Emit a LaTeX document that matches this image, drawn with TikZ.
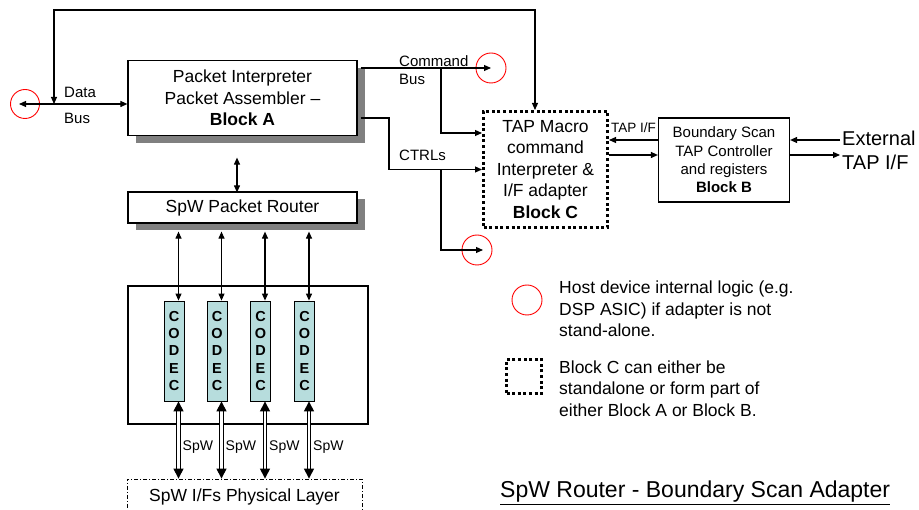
\documentclass[tikz,border=0pt]{standalone}
\usepackage{fontspec}
\setmainfont{Liberation Sans}
\usetikzlibrary{arrows.meta,shadows,calc}
\definecolor{codecfill}{RGB}{183,221,221}
\definecolor{shadowgray}{RGB}{128,128,128}
\begin{document}
\begin{tikzpicture}[x=1pt,y=-1pt,
  >={Triangle[length=7pt,width=6pt]},
  conn/.style={line width=1.1pt},
  spw/.style={line width=1.1pt,double,double distance=2.4pt,{Triangle[length=10pt,width=10pt]}-{Triangle[length=10pt,width=10pt]}},
  blk/.style={draw,line width=1.2pt,fill=white,align=center,inner sep=0pt,font=\fontsize{17.5}{21.5}\selectfont},
  shad/.style={drop shadow={shadow xshift=7.5pt,shadow yshift=-7.5pt,fill=shadowgray,opacity=1}},
  dottedbox/.style={draw,line width=3pt,dash pattern=on 3pt off 2.6pt},
  hostcirc/.style={circle,draw=red,line width=0.9pt,minimum size=29pt,inner sep=0pt},
  codec/.style={draw,line width=0.8pt,fill=codecfill,minimum width=20pt,minimum height=100pt,inner sep=0pt,align=center,font=\fontsize{14.5}{17.3}\selectfont\bfseries},
  lbl/.style={inner sep=0pt,font=\fontsize{15}{18}\selectfont},
  lblsmall/.style={inner sep=0pt,font=\fontsize{13.5}{16}\selectfont},
  lblspw/.style={inner sep=0pt,font=\fontsize{14}{16}\selectfont},
  legend/.style={inner sep=0pt,align=left,font=\fontsize{17.5}{21.5}\selectfont}
]
\useasboundingbox (0,0) rectangle (919,510);

% main blocks
\node[blk,shad,minimum width=229pt,minimum height=75pt] (A) at (242.5,98)
  {Packet Interpreter\\Packet Assembler –\\\textbf{Block A}};
\node[blk,shad,minimum width=229pt,minimum height=31pt] (R) at (242.5,207.5)
  {SpW Packet Router};
\node[blk,dottedbox,minimum width=124pt,minimum height=116pt] (C) at (545.5,169.5)
  {TAP Macro\\command\\Interpreter \&\\I/F adapter\\\textbf{Block C}};
\node[blk,minimum width=131pt,minimum height=84pt,font=\fontsize{15}{18.3}\selectfont] (B) at (724,160)
  {Boundary Scan\\TAP Controller\\and registers\\\textbf{Block B}};

% codec container
\node[draw,line width=1.2pt,minimum width=240pt,minimum height=138pt,inner sep=0pt] (box) at (248,355) {};
\node[codec] (k1) at (174,351) {C\\O\\D\\E\\C};
\node[codec] (k2) at (217,351) {C\\O\\D\\E\\C};
\node[codec] (k3) at (260.5,351) {C\\O\\D\\E\\C};
\node[codec] (k4) at (304.5,351) {C\\O\\D\\E\\C};

% physical layer
\node[draw,line width=0.8pt,dash pattern=on 4pt off 2pt on 1pt off 2pt,minimum width=235pt,minimum height=36pt,inner sep=0pt,font=\fontsize{17.5}{21}\selectfont] (P) at (244.5,497) {SpW I/Fs Physical Layer};

% host circles
\node[hostcirc] (dbus) at (25,104) {};
\node[hostcirc,minimum size=30pt] (cb) at (491,68) {};
\node[hostcirc,minimum size=30pt] (ct) at (477,250) {};

% data bus
\draw[conn,<->] (dbus.center -| A.west) -- ([xshift=-6pt]dbus.center);
\node[lbl,anchor=west] (ldata) at (64,92) {Data};
\node[lbl,anchor=west] (lbus) at (64,118.5) {Bus};

% top loop
\coordinate (tl) at (54,10);
\coordinate (tr) at (535,10);
\draw[conn,<->] (tl |- dbus.center) -- (tl) -- (tr) -- (tr |- C.north);

% command bus
\coordinate (Ae) at ([xshift=3pt]A.east);
\draw[conn,->] (Ae |- cb.center) -- (cb.center);
\coordinate (br1) at (441,68);
\coordinate (cin1) at ([yshift=36.5pt]C.west);
\draw[conn,->] (br1) |- (cin1);
\node[lbl,anchor=west] (lcmd) at (399,61) {Command};
\node[lbl,anchor=west] (lcbus) at (399,79.5) {Bus};

% ctrls
\coordinate (ct1) at (389,118);
\draw[conn,->] (Ae |- ct1) -- (ct1) |- (C.west);
\coordinate (br2) at (441,169.5);
\draw[conn,->] (br2) |- ([xshift=6pt]ct.center);
\node[lbl,anchor=west] (lctrl) at (399,155.5) {CTRLs};

% TAP I/F between C and B
\coordinate (t1) at ([yshift=20pt]B.west);
\coordinate (t2) at ([yshift=5pt]B.west);
\draw[conn,->] (t1) -- (t1 -| C.east);
\draw[conn,->] (t2 -| C.east) -- (t2);
\node[lblsmall,anchor=west] (ltap) at (611,128) {TAP I/F};

% external
\coordinate (e1) at (840,140);
\coordinate (e2) at (840,155);
\draw[conn,->] (e1) -- (e1 -| B.east);
\draw[conn,->] (e2 -| B.east) -- (e2);
\node[inner sep=0pt,anchor=west,align=left,font=\fontsize{20}{24}\selectfont] (lext) at (842,150) {External\\TAP I/F};

% A <-> router
\draw[conn,<->] ($(A.south)+(-5.5,21.5)$) -- ($(R.north)+(-5.5,1)$);

% router <-> codecs, codecs <-> physical
\foreach \i in {1,...,4} {
  \draw[conn,<->] ($(R.south -| k\i.north)+(4.5,8)$) -- ($(k\i.north)+(4.5,0)$);
  \draw[spw] ($(k\i.south)+(4.5,0)$) -- ($(k\i.south |- P.north)+(4.5,0)$);
  \node[lblspw,anchor=west] (s\i) at ($(k\i.south)+(8.5,46)$) {SpW};
}

% legend
\node[hostcirc,minimum size=30pt] (lc) at (527,300) {};
\node[legend,anchor=west] (lt1) at (559,309) {Host device internal logic (e.g.\\DSP ASIC) if adapter is not\\stand-alone.};
\node[dottedbox,minimum width=35pt,minimum height=34pt,inner sep=0pt] (lb) at (524,376.5) {};
\node[legend,anchor=west] (lt2) at (559,388.5) {Block C can either be\\standalone or form part of\\either Block A or Block B.};

% title
\node[inner sep=0pt,anchor=west,font=\fontsize{23}{26}\selectfont] (title) at (500,493) {\underline{SpW Router - Boundary Scan Adapter}};
\end{tikzpicture}
\end{document}
